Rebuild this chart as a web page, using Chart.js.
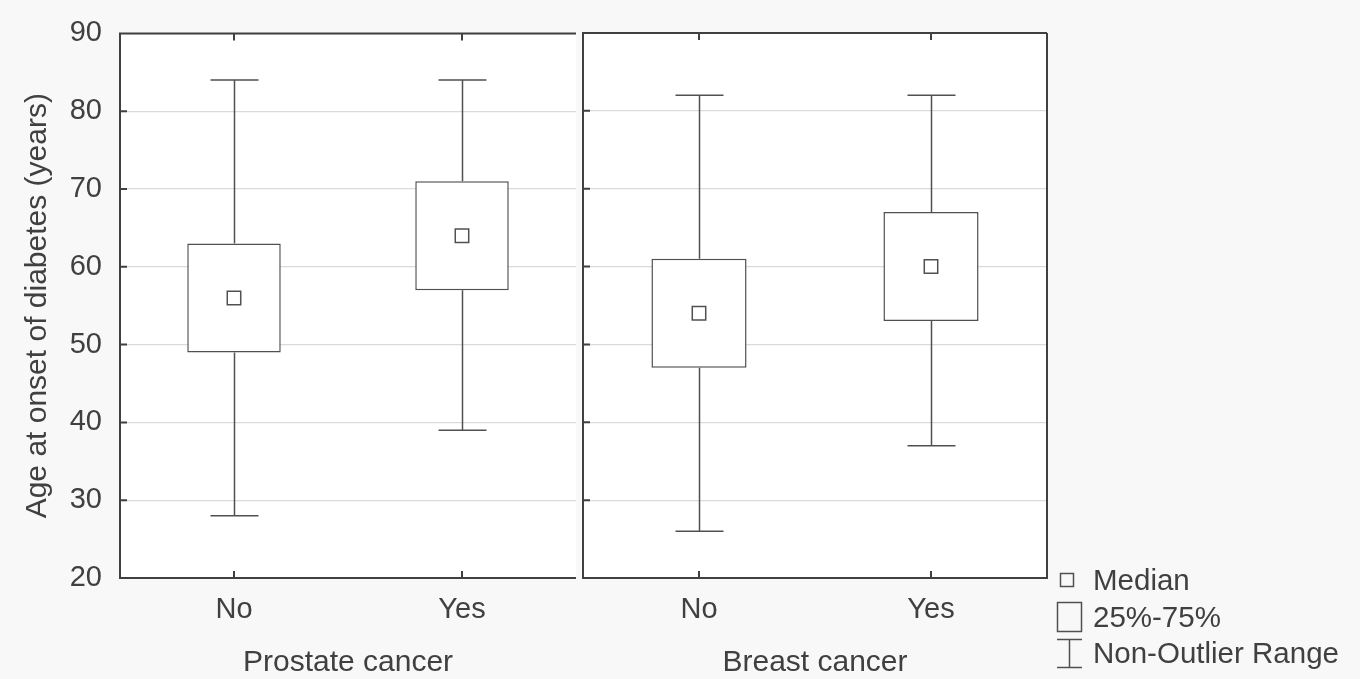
<!DOCTYPE html>
<html>
<head>
<meta charset="utf-8">
<script src="https://cdn.jsdelivr.net/npm/chart.js@4"></script>
<style>
  body { margin: 0; background: #f8f8f8; width: 1360px; height: 679px; overflow: hidden; }
  canvas { position: absolute; top: 0; }
  #left { left: 0; top: -2px; }
  #right { left: 560px; }
</style>
</head>
<body>
<canvas id="left" width="587" height="681"></canvas>
<canvas id="right" width="800" height="679"></canvas>
<script>
const categories = ['No', 'Yes'];
const groupLabels = ['Prostate cancer', 'Breast cancer'];
const yMin = 20, yMax = 90, yStep = 10;

const prostateMin = [28, 39];
const prostateQ1 = [49, 57];
const prostateMedian = [56, 64];
const prostateQ3 = [63, 71];
const prostateMax = [84, 84];

const breastMin = [26, 37];
const breastQ1 = [47, 53];
const breastMedian = [54, 60];
const breastQ3 = [61, 67];
const breastMax = [82, 82];

const legendItems = ['Median', '25%-75%', 'Non-Outlier Range'];

const lineColor = '#505050';
const textColor = '#404040';
const fontFamily = '"Liberation Sans", Arial, sans-serif';

// white plot area + frame + inner ticks + whiskers
const panelPlugin = {
  id: 'panel',
  beforeDraw(chart) {
    const { ctx, chartArea: a } = chart;
    ctx.save();
    ctx.fillStyle = '#fff';
    ctx.fillRect(a.left, a.top, a.right - a.left, a.bottom - a.top);
    ctx.restore();
  },
  beforeDatasetsDraw(chart) {
    const { ctx, scales: { x, y } } = chart;
    const w = chart.options.plugins.panel;
    ctx.save();
    ctx.strokeStyle = lineColor;
    ctx.lineWidth = 1.5;
    w.min.forEach((v, i) => {
      const cx = Math.round(x.getPixelForValue(i)) + 0.5;
      const cap = 24;
      const yMinPx = y.getPixelForValue(v);
      const yQ1 = y.getPixelForValue(w.q1[i]);
      const yQ3 = y.getPixelForValue(w.q3[i]);
      const yMaxPx = y.getPixelForValue(w.max[i]);
      ctx.beginPath();
      ctx.moveTo(cx, yMinPx); ctx.lineTo(cx, yQ1);
      ctx.moveTo(cx, yQ3); ctx.lineTo(cx, yMaxPx);
      ctx.moveTo(cx - cap, yMinPx); ctx.lineTo(cx + cap, yMinPx);
      ctx.moveTo(cx - cap, yMaxPx); ctx.lineTo(cx + cap, yMaxPx);
      ctx.stroke();
    });
    ctx.restore();
  },
  afterDraw(chart) {
    const { ctx, chartArea: a, scales: { x, y } } = chart;
    const opts = chart.options.plugins.panel;
    ctx.save();
    ctx.strokeStyle = '#404040';
    ctx.lineWidth = 2;
    ctx.beginPath();
    ctx.moveTo(a.right, a.top); ctx.lineTo(a.left, a.top);
    ctx.lineTo(a.left, a.bottom); ctx.lineTo(a.right, a.bottom);
    if (opts.rightBorder) ctx.lineTo(a.right, a.top);
    // inner ticks
    const t = 7;
    y.ticks.forEach(tk => {
      const py = y.getPixelForValue(tk.value);
      ctx.moveTo(a.left, py); ctx.lineTo(a.left + t, py);
    });
    categories.forEach((c, i) => {
      const px = x.getPixelForValue(i);
      ctx.moveTo(px, a.top); ctx.lineTo(px, a.top + t);
      ctx.moveTo(px, a.bottom); ctx.lineTo(px, a.bottom - t);
    });
    ctx.stroke();
    ctx.restore();
  }
};

const legendPlugin = {
  id: 'sideLegend',
  afterDraw(chart) {
    const { ctx } = chart;
    const ox = 1060 - 560;
    ctx.save();
    ctx.strokeStyle = lineColor;
    ctx.lineWidth = 1.5;
    ctx.fillStyle = textColor;
    ctx.font = '29.5px ' + fontFamily;
    ctx.textBaseline = 'alphabetic';
    // median marker
    ctx.strokeRect(ox + 0.5, 573.5, 13, 13);
    ctx.fillText(legendItems[0], ox + 33, 590);
    // box
    ctx.strokeRect(ox - 2.5, 602.5, 24, 29);
    ctx.fillText(legendItems[1], ox + 33, 627);
    // whisker
    ctx.beginPath();
    ctx.moveTo(ox - 3, 639.5); ctx.lineTo(ox + 22, 639.5);
    ctx.moveTo(ox + 9.5, 639.5); ctx.lineTo(ox + 9.5, 667.5);
    ctx.moveTo(ox - 3, 667.5); ctx.lineTo(ox + 22, 667.5);
    ctx.stroke();
    ctx.fillText(legendItems[2], ox + 33, 663);
    ctx.restore();
  }
};

function makeConfig(group, min, q1, med, q3, max, showY, padding, rightBorder, extra) {
  return {
    type: 'bar',
    data: {
      labels: categories,
      datasets: [
        {
          type: 'line',
          data: med,
          showLine: false,
          pointStyle: 'rect',
          pointRadius: 9.5,
          pointBackgroundColor: '#fff',
          pointBorderColor: lineColor,
          pointBorderWidth: 1.5,
          order: 0
        },
        {
          data: q1.map((v, i) => [v, q3[i]]),
          backgroundColor: '#fff',
          borderColor: lineColor,
          borderWidth: 1.5,
          borderSkipped: false,
          barPercentage: 0.41,
          categoryPercentage: 1,
          order: 1
        }
      ]
    },
    options: {
      responsive: false,
      animation: false,
      events: [],
      layout: { padding },
      plugins: {
        legend: { display: false },
        tooltip: { enabled: false },
        panel: { min, q1, q3, max, rightBorder }
      },
      scales: {
        x: {
          grid: { display: false, drawTicks: false },
          border: { display: false },
          ticks: { color: textColor, font: { size: 29, family: fontFamily }, padding: 15 },
          title: { display: true, text: group, color: textColor, font: { size: 30, family: fontFamily }, padding: { top: 0, bottom: -2 } },
          afterFit: s => { s.height = 101; }
        },
        y: {
          min: yMin, max: yMax,
          grid: { color: '#dadada', lineWidth: 1.2, drawTicks: false },
          border: { display: false },
          ticks: {
            display: showY, stepSize: yStep, color: textColor,
            font: { size: 29, family: fontFamily }, padding: 18
          },
          title: {
            display: showY, text: 'Age at onset of diabetes (years)', color: textColor,
            font: { size: 30, family: fontFamily }, padding: { top: 20, bottom: 0 }
          },
          afterFit: s => { s.width = showY ? 120 : 0; }
        }
      }
    },
    plugins: extra ? [panelPlugin, extra] : [panelPlugin]
  };
}

new Chart(document.getElementById('left'),
  makeConfig(groupLabels[0], prostateMin, prostateQ1, prostateMedian, prostateQ3, prostateMax,
    true, { top: 33, left: 0, right: 4, bottom: 0 }, false));

new Chart(document.getElementById('right'),
  makeConfig(groupLabels[1], breastMin, breastQ1, breastMedian, breastQ3, breastMax,
    false, { top: 33, left: 23, right: 313, bottom: 0 }, true, legendPlugin));
</script>
</body>
</html>
